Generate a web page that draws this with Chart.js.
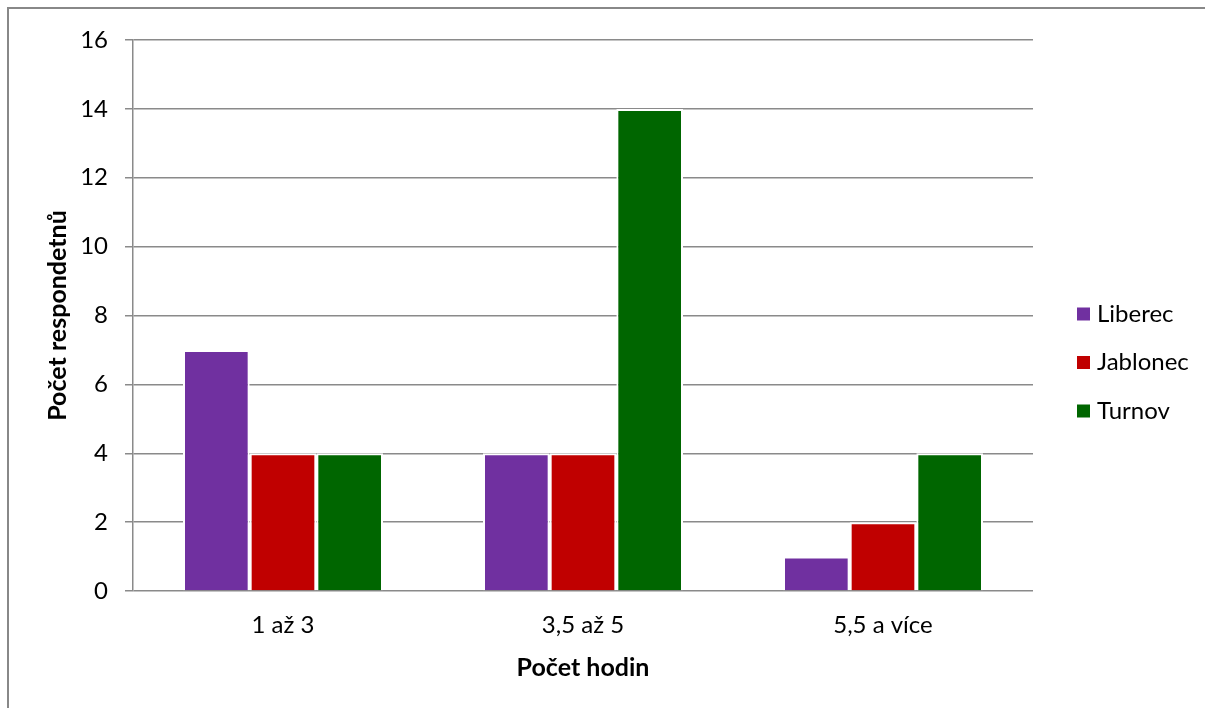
<!DOCTYPE html>
<html>
<head>
<meta charset="utf-8">
<script src="https://cdn.jsdelivr.net/npm/chart.js@4.4.1/dist/chart.umd.min.js"></script>
<style>
  html, body { margin: 0; padding: 0; background: #fff; }
  #wrap { position: relative; width: 1205px; height: 708px; overflow: hidden; }
  #frame { position: absolute; left: 7px; top: 7px; width: 1300px; height: 800px; border: 2px solid #888; box-sizing: border-box; }
  canvas { position: absolute; left: 0; top: 0; }
</style>
</head>
<body>
<div id="wrap">
  <div id="frame"></div>
  <canvas id="chart" width="1205" height="708"></canvas>
</div>
<script>
// data
const categories = ['1 až 3', '3,5 až 5', '5,5 a více'];
const seriesNames = ['Liberec', 'Jablonec', 'Turnov'];
const liberec = [7, 4, 1];
const jablonec = [4, 4, 2];
const turnov = [4, 14, 4];
const seriesColors = ['#7030a0', '#c00000', '#006600'];
const yTicks = [0, 2, 4, 6, 8, 10, 12, 14, 16];

const FONT = 'Lato, Carlito, Calibri, sans-serif';
const gridColor = '#8a8a8a';

// legend drawn by hand on the right side
const sideLegend = {
    id: 'sideLegend',
    afterDraw(chart) {
        const ctx = chart.ctx;
        const items = chart.data.datasets;
        ctx.save();
        ctx.font = '24px ' + FONT;
        ctx.textBaseline = 'middle';
        ctx.textAlign = 'left';
        items.forEach((ds, i) => {
            const cy = 314 + i * 48.5;
            ctx.fillStyle = ds.backgroundColor;
            ctx.fillRect(1077, cy - 6.5, 13, 13);
            ctx.fillStyle = '#000';
            ctx.fillText(ds.label, 1097, cy);
        });
        ctx.restore();
    }
};

const datasets = [liberec, jablonec, turnov].map((vals, i) => ({
    label: seriesNames[i],
    data: vals,
    backgroundColor: seriesColors[i],
    borderColor: '#ffffff',
    borderWidth: 2,
    borderSkipped: 'bottom',
    categoryPercentage: 2 / 3,
    barPercentage: 1
}));

new Chart(document.getElementById('chart'), {
    type: 'bar',
    data: { labels: categories, datasets: datasets },
    plugins: [sideLegend],
    options: {
        responsive: false,
        animation: false,
        layout: { padding: { left: 0, top: 40, right: 172, bottom: 0 } },
        plugins: {
            legend: { display: false },
            tooltip: { enabled: false }
        },
        scales: {
            x: {
                afterFit(scale) { scale.height = 117; },
                grid: { display: false, drawTicks: false },
                border: { display: false },
                ticks: { color: '#000', font: { family: FONT, size: 24 }, padding: 20 },
                title: {
                    display: true,
                    text: 'Počet hodin',
                    color: '#000',
                    font: { family: FONT, size: 25, weight: 'bold' },
                    padding: { top: 0, bottom: 25 }
                }
            },
            y: {
                min: 0,
                max: 16,
                afterFit(scale) { scale.width = 133; },
                afterBuildTicks(scale) { scale.ticks = yTicks.map(v => ({ value: v })); },
                grid: { color: gridColor, lineWidth: 1.5, tickLength: 8, drawTicks: true },
                border: { display: true, color: gridColor, width: 1.5 },
                ticks: { color: '#000', font: { family: FONT, size: 24 }, padding: 17 },
                title: {
                    display: true,
                    text: 'Počet respondetnů',
                    color: '#000',
                    font: { family: FONT, size: 25, weight: 'bold' },
                    padding: { top: 43, bottom: 0 }
                }
            }
        }
    }
});
</script>
</body>
</html>
